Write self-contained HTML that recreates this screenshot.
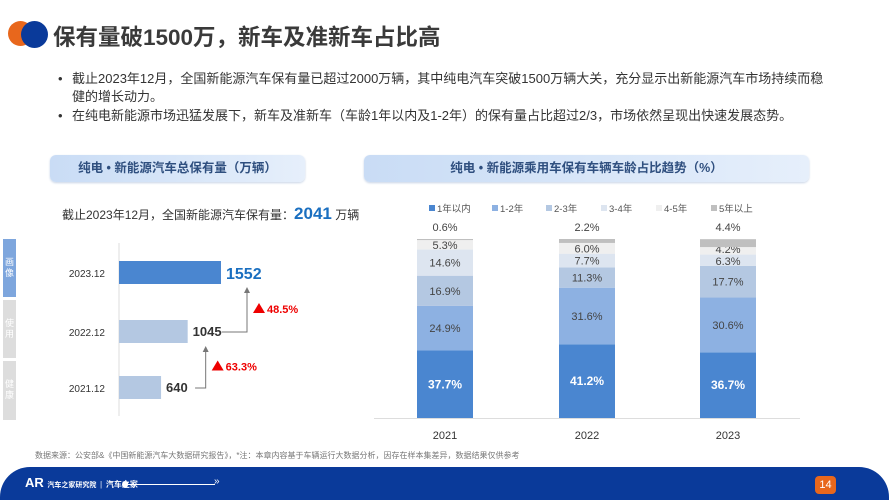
<!DOCTYPE html>
<html><head><meta charset="utf-8"><style>
*{margin:0;padding:0;box-sizing:border-box}
body{width:889px;height:500px;overflow:hidden;background:#fff;font-family:"Liberation Sans","Noto Sans CJK SC",sans-serif;position:relative;color:#333}
.abs{position:absolute}
.hdr{position:absolute;height:27px;border-radius:6px;background:linear-gradient(90deg,#c9dcf5,#e6effb);box-shadow:0 1px 2px #c8d4e6;color:#2f4f7f;font-weight:bold;font-size:12.5px;text-align:center;line-height:27px}
.bl{position:absolute;left:58px;font-size:13px;color:#333;line-height:18px}
</style></head><body>
<div class="abs" style="left:8px;top:21px;width:25px;height:25px;border-radius:50%;background:#e8671c"></div>
<div class="abs" style="left:21px;top:21px;width:27px;height:27px;border-radius:50%;background:#0a3a9a"></div>
<div class="abs" style="left:53px;top:20px;font-size:22.5px;font-weight:bold;color:#3a3a3a;white-space:nowrap">保有量破1500万，新车及准新车占比高</div>
<div class="bl" style="top:70px;width:800px"><span style="position:absolute;left:0">•</span><div style="margin-left:14px">截止2023年12月，全国新能源汽车保有量已超过2000万辆，其中纯电汽车突破1500万辆大关，充分显示出新能源汽车市场持续而稳<br>健的增长动力。</div></div>
<div class="bl" style="top:107px;width:800px"><span style="position:absolute;left:0">•</span><div style="margin-left:14px">在纯电新能源市场迅猛发展下，新车及准新车（车龄1年以内及1-2年）的保有量占比超过2/3，市场依然呈现出快速发展态势。</div></div>

<div class="hdr" style="left:50px;top:155px;width:255px">纯电 • 新能源汽车总保有量（万辆）</div>
<div class="hdr" style="left:364px;top:155px;width:445px">纯电 • 新能源乘用车保有车辆车龄占比趋势（%）</div>

<div class="abs" style="left:62px;top:204px;font-size:12px;color:#333;white-space:nowrap">截止2023年12月，全国新能源汽车保有量：<b style="color:#1a6fc0;font-size:17px">2041</b> 万辆</div>

<div class="abs" style="left:3px;top:239px;width:13px;height:58px;background:#7ea6dd;color:#fff;font-size:9px;line-height:11px;text-align:center;padding-top:18px">画<br>像</div>
<div class="abs" style="left:3px;top:300px;width:13px;height:58px;background:#ddd;color:#fff;font-size:9px;line-height:11px;text-align:center;padding-top:18px">使<br>用</div>
<div class="abs" style="left:3px;top:361px;width:13px;height:59px;background:#ddd;color:#fff;font-size:9px;line-height:11px;text-align:center;padding-top:18px">健<br>康</div>

<svg class="abs" style="left:0;top:0" width="889" height="500">
<defs><marker id="ah" markerWidth="6" markerHeight="6" refX="3" refY="3" orient="auto"><path d="M0,0L6,3L0,6z" fill="#777"/></marker></defs>
<g id="left"></g><g id="right"></g>
</svg>

<div class="abs" style="left:35px;top:450px;font-size:8px;color:#777;white-space:nowrap">数据来源：公安部&《中国新能源汽车大数据研究报告》，*注：本章内容基于车辆运行大数据分析，因存在样本集差异，数据结果仅供参考</div>
<div class="abs" style="left:0;top:467px;width:889px;height:33px;background:#0a3a9a;border-radius:30px 30px 0 0"></div>
<div class="abs" style="left:25px;top:475px;color:#fff;font-size:13px;font-weight:bold;white-space:nowrap">AR <span style="font-size:7px">汽车之家研究院</span> <span style="font-size:8px;opacity:.6">|</span> <span style="font-size:8px">汽车之家</span></div>
<div class="abs" style="left:125px;top:484px;width:90px;height:1px;background:#fff"></div>
<div class="abs" style="left:122px;top:481px;width:6px;height:7px;border-radius:50%;background:#fff"></div>
<div class="abs" style="left:214px;top:476px;color:#fff;font-size:10px">»</div>
<div class="abs" style="left:815px;top:476px;width:21px;height:18px;border-radius:4px;background:#e8671c;color:#fff;font-size:11px;text-align:center;line-height:18px">14</div>

<script>
const leftYears=["2023.12","2022.12","2021.12"];
const leftValues=[1552,1045,640];
const growthLabels=["48.5%","63.3%"];
const ageCats=["1年以内","1-2年","2-3年","3-4年","4-5年","5年以上"];
const years=["2021","2022","2023"];
const s1=[37.7,41.2,36.7];
const s2=[24.9,31.6,30.6];
const s3=[16.9,11.3,17.7];
const s4=[14.6,7.7,6.3];
const s5=[5.3,6.0,4.2];
const s6=[0.6,2.2,4.4];
const NS="http://www.w3.org/2000/svg";
function mk(p,t,a,txt){const e=document.createElementNS(NS,t);for(const k in a)e.setAttribute(k,a[k]);if(txt!==undefined)e.textContent=txt;p.appendChild(e);return e;}
const L=document.getElementById('left');
const x0=119,kx=102/1552;
const xL=v=>x0+v*kx;
const yTop=[261,320,376],bh=23;
mk(L,'line',{x1:x0,y1:243,x2:x0,y2:416,stroke:'#ddd','stroke-width':1});
leftValues.forEach((v,i)=>{
 const r=mk(L,'rect',{x:x0,y:yTop[i],width:xL(v)-x0,height:bh,fill:i==0?'#4a86d0':'#b4c8e2'});
 
 
 const t=mk(L,'text',{x:105,y:yTop[i]+16,'text-anchor':'end','font-size':10,fill:'#333'},leftYears[i]);
 
 
 const vt=mk(L,'text',{x:xL(v)+5,y:yTop[i]+(i==0?18:16),'font-size':i==0?16:13,'font-weight':'bold',fill:i==0?'#1a6fc0':'#333'},v);
 
 
});
[[2,1],[1,0]].forEach(([from,to],gi)=>{
 const yS=yTop[from]+12;
 const xa=xL(leftValues[to])+(to==0?26:18);
 mk(L,'polyline',{points:`${xL(leftValues[from])+34},${yS} ${xa},${yS} ${xa},${yTop[to]+bh+6}`,fill:'none',stroke:'#777','stroke-width':1,'marker-end':'url(#ah)'});
 const gx=xa+6,gy=(yS+yTop[to]+bh)/2+5;
 const tri=mk(L,'path',{d:`M${gx},${gy} l6,-10 l6,10z`,fill:'#e00'});
 
 
 const gt=mk(L,'text',{x:gx+14,y:gy,'font-size':11,'font-weight':'bold',fill:'#e00'},growthLabels[1-gi]);
 
 
});
const R=document.getElementById('right');
const base=418,H=179,bw=56;
const xs=[417,559,700];
const yv=p=>p*H/100;
const series=[s1,s2,s3,s4,s5,s6];
const cols=['#4a86d0','#8db1e2','#b4c8e2','#dde5f0','#efefef','#bfbfbf'];
mk(R,'line',{x1:374,y1:base+0.5,x2:800,y2:base+0.5,stroke:'#ddd','stroke-width':1});
years.forEach((yr,j)=>{
 let cum=0;
 series.forEach((s,k)=>{
  const h=yv(s[j]);const y=base-yv(cum)-h;
  const r=mk(R,'rect',{x:xs[j],y:y,width:bw,height:h,fill:cols[k]});
  
  
  let ly=y+h/2+4;
  if(k==5) ly=y-8;
  if(k==4&&j==2) ly=y+h/2+2;
  if(k==3&&j==2) ly=y+h/2+5;
  const t=mk(R,'text',{x:xs[j]+bw/2,y:ly,'text-anchor':'middle','font-size':k==0?12:11,'font-weight':k==0?'bold':'normal',fill:k==0?'#fff':'#444'},s[j].toFixed(1)+'%');
  
  
  cum+=s[j];
 });
 const yt=mk(R,'text',{x:xs[j]+bw/2,y:439,'text-anchor':'middle','font-size':11,fill:'#333'},yr);
 
 
});
const lx=[429,492,546,601,656,711];
ageCats.forEach((c,k)=>{
 const r=mk(R,'rect',{x:lx[k],y:205,width:6,height:6,fill:cols[k]});
 
 
 const t=mk(R,'text',{x:lx[k]+8,y:212,'font-size':9.5,fill:'#555'},c);
 
 
});
</script>
</body></html>
